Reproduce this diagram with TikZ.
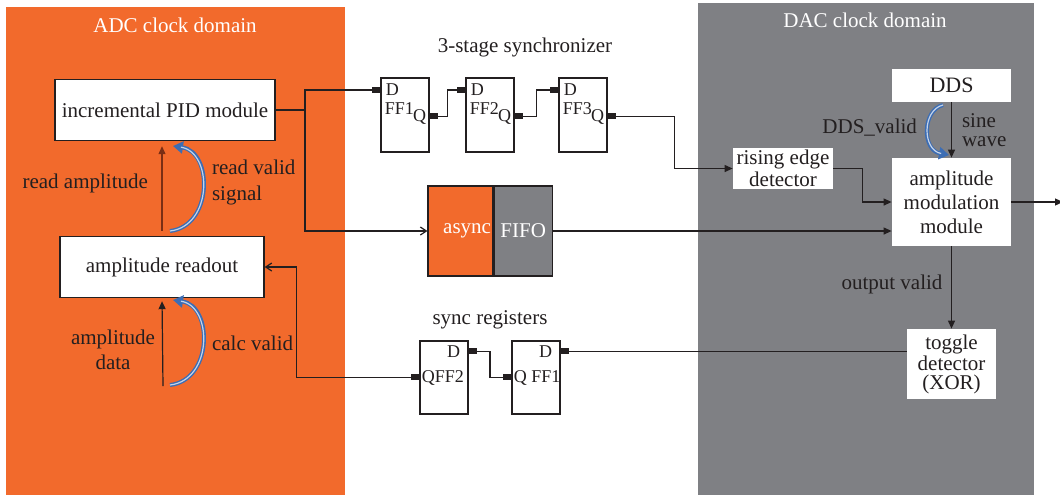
\documentclass[tikz,border=0pt]{standalone}
\usepackage{fontspec}
\setmainfont{Liberation Serif}
\usepackage{tikz}
\usetikzlibrary{arrows.meta,calc,positioning}
\definecolor{adcorange}{HTML}{F26A2C}
\definecolor{dacgray}{HTML}{7F8084}
\definecolor{ink}{HTML}{231F20}
\definecolor{flowblue}{HTML}{3C6DB4}
\definecolor{readbrown}{HTML}{7A2E14}
\tikzset{
  blk/.style={draw=ink,fill=white,line width=.7pt,inner sep=1pt,align=center},
  wbox/.style={fill=white,inner sep=.5pt,align=center},
  ff/.style={draw=ink,fill=white,line width=.6pt,minimum width=24pt,minimum height=37pt,inner sep=0pt},
  ffl/.style={font=\fontsize{9}{10}\selectfont,inner sep=.5pt},
  pin/.style={fill=ink,minimum width=4pt,minimum height=3pt,inner sep=0pt},
  wire/.style={draw=ink,line width=.6pt},
  sig/.style={wire,-{Triangle[length=4pt,width=3.5pt]}},
  barb/.style={wire,-{Straight Barb[length=3pt,width=4pt]}},
  vflow/.style={flowblue,line width=2pt,-{Triangle[length=5pt,width=6pt]},
    postaction={draw=flowblue!30!white,line width=.6pt,-,shorten >=4pt}}
}
\begin{document}
\begin{tikzpicture}[x=.5pt,y=-.5pt,font=\fontsize{10.5}{12.5}\selectfont,text=ink]
\useasboundingbox (0,0) rectangle (1060,495);
% clock domains
\fill[adcorange] (6,7) rectangle (345,495);
\fill[dacgray] (698,3) rectangle (1034,495);
\node[text=white] (adct) at (175,25) {ADC clock domain};
\node[text=white] (dact) at (865,20) {DAC clock domain};

% ADC side
\node[blk,minimum width=110pt,minimum height=30.5pt] (pid) at (165,110) {incremental PID module};
\node[blk,minimum width=102pt,minimum height=30.5pt] (rdout) at (162,267) {amplitude readout};
\coordinate (din) at (163,386);
\draw[readbrown,line width=.6pt,-{Triangle[length=4pt,width=3.5pt]},shorten <=2.5pt,shorten >=2.5pt] (rdout.north) -- (rdout.north |- pid.south);
\draw[sig,shorten >=1.5pt] (din) -- (rdout.south);
\node[anchor=east] (rdamp) at (155,183) {read amplitude};
\node[anchor=west,align=left,font=\fontsize{10.5}{13}\selectfont] (rdval) at (205,182) {read valid\\signal};
\node[align=center] (ampd) at (113,350) {amplitude\\data};
\node[anchor=west] (calcv) at (205,343) {calc valid};
\draw[vflow] (170,231) .. controls (213,226) and (213,152) .. (173,146);
\draw[vflow] (170,385) .. controls (213,380) and (213,306) .. (173,300);

% 3-stage synchronizer
\node (synct) at (525,47) {3-stage synchronizer};
\foreach \i/\x in {1/405,2/490,3/583}{
  \node[ff] (ff\i) at (\x,115) {};
  \node[pin] (d\i) at ($(ff\i.north west)+(-4,12.5)$) {};
  \node[pin] (q\i) at ($(ff\i.north east)+(4,39)$) {};
  \node[ffl,anchor=west] (ffd\i) at ($(ff\i.north west)+(4,12.5)$) {D};
  \node[ffl,anchor=west] (ffn\i) at ($(ff\i.north west)+(3,31)$) {FF\i};
  \node[ffl,anchor=east] (ffq\i) at ($(ff\i.north east)+(-2,40)$) {Q};
}
\coordinate (jn) at (305,110);
\draw[wire] (pid.east) -- (jn) |- (d1.west);
\foreach \i/\j in {1/2,2/3}{\draw[wire] (q\i.east) -| ($(q\i.east)!.5!(d\j.west)$) |- (d\j.west);}

% async FIFO
\node[fill=adcorange,draw=ink,line width=.6pt,minimum height=45pt,text width=30.5pt,align=right,inner sep=1pt,text=white] (fifoA) at (460.5,231) {async};
\node[fill=dacgray,draw=ink,line width=.6pt,minimum width=29pt,minimum height=45pt,inner sep=1pt,text=white,right=0pt of fifoA] (fifoB) {FIFO};
\draw[barb] (jn) |- (fifoA.west);

% DAC side
\node[wbox,minimum width=59.5pt,minimum height=16.5pt,font=\fontsize{11}{13}\selectfont] (dds) at (951.5,85.5) {DDS};
\node[wbox,minimum width=59.5pt,minimum height=44pt,font=\fontsize{10.5}{12}\selectfont] (amod) at (951.5,202) {amplitude\\modulation\\module};
\node[wbox,minimum width=50pt,minimum height=20.5pt,font=\fontsize{10.5}{11}\selectfont] (redg) at (783,168.5) {rising edge\\detector};
\node[wbox,minimum width=44.5pt,minimum height=35pt,font=\fontsize{10.5}{9.5}\selectfont] (tog) at (951.5,364) {toggle\\detector\\(XOR)};
\draw[sig] (q3.east) -| ($(q3.east)!.5!(redg.west)$) |- (redg.west);
\draw[sig] (redg.east) -| ($(redg.east)!.5!(amod.west)$) |- (amod.west);
\draw[sig] (fifoB.east) -- (fifoB.east -| amod.west);
\coordinate (dout) at (1063,202);
\draw[sig] (amod.east) -- (dout);
\draw[sig] (dds.south) -- (amod.north);
\draw[sig] (amod.south) -- (tog.north);
\node[anchor=east] (ddsv) at (924,128) {DDS\_valid};
\node[anchor=west,align=left,font=\fontsize{10.5}{9.2}\selectfont] (sinew) at (955,130) {sine\\wave};
\node (outv) at (892,284) {output valid};
\draw[vflow] (943,105) .. controls (922,110) and (922,150) .. (949,155);

% sync registers
\node (syncrt) at (490,320) {sync registers};
\foreach \i/\x/\lbl in {2/444/QFF2,1/536/Q FF1}{
  \node[ff,minimum height=36.5pt] (sff\i) at (\x,377.5) {};
  \node[pin] (sd\i) at ($(sff\i.north east)+(4,11)$) {};
  \node[pin] (sq\i) at ($(sff\i.north west)+(-4,37)$) {};
  \node[ffl,anchor=east] (sdl\i) at ($(sff\i.north east)+(-7,11)$) {D};
  \node[ffl,anchor=west] (sql\i) at ($(sff\i.north west)+(1,38)$) {\lbl};
}
\draw[wire] (sd1.east) -- (sd1.east -| tog.west);
\draw[wire] (sd2.east) -| ($(sd2.east)!.5!(sq1.west)$) |- (sq1.west);
\draw[barb] (sq2.west) -| ($(rdout.east)+(32,0)$) |- (rdout.east);
\end{tikzpicture}
\end{document}
